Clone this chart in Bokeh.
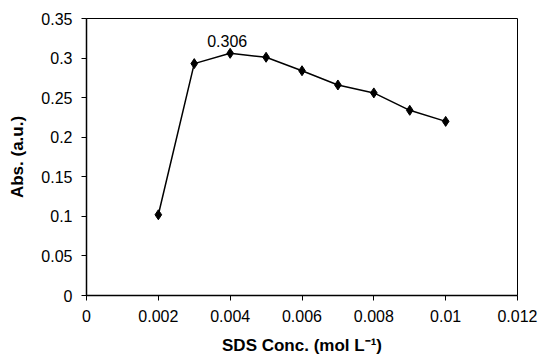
from bokeh.plotting import figure
from bokeh.models import FixedTicker, Range1d, ColumnDataSource
from bokeh.core.properties import value
from bokeh.embed import file_html
from bokeh.resources import INLINE

# data
sds_conc = [0.002, 0.003, 0.004, 0.005, 0.006, 0.007, 0.008, 0.009, 0.010]
absorbance = [0.102, 0.293, 0.306, 0.301, 0.284, 0.266, 0.256, 0.234, 0.220]
x_ticks = [0, 0.002, 0.004, 0.006, 0.008, 0.010, 0.012]
x_tick_labels = ["0", "0.002", "0.004", "0.006", "0.008", "0.01", "0.012"]
y_ticks = [0, 0.05, 0.10, 0.15, 0.20, 0.25, 0.30, 0.35]
y_tick_labels = ["0", "0.05", "0.1", "0.15", "0.2", "0.25", "0.3", "0.35"]
annot_x = [0.004]
annot_y = [0.306]
annot_text = ["0.306"]

FONT = "Liberation Sans"

p = figure(width=541, height=357, output_backend="svg", toolbar_location=None,
           x_range=Range1d(0, 0.012), y_range=Range1d(0, 0.35),
           min_border_left=86, min_border_right=24, min_border_top=18, min_border_bottom=61)
p.background_fill_color = "white"
p.border_fill_color = "white"
p.outline_line_color = "black"
p.outline_line_width = 1
p.grid.visible = False

src = ColumnDataSource(dict(x=sds_conc, y=absorbance))
p.line("x", "y", source=src, line_color="black", line_width=1.5)
p.scatter("x", "y", source=src, marker="diamond", size=10, fill_color="black", line_color="black")

p.text(x=annot_x, y=annot_y, text=annot_text, text_align="center", text_baseline="bottom",
       x_offset=-3, y_offset=-6, text_font=value(FONT), text_font_size="16px", text_color="black")

for ax, ticks, labels in ((p.xaxis[0], x_ticks, x_tick_labels), (p.yaxis[0], y_ticks, y_tick_labels)):
    ax.ticker = FixedTicker(ticks=ticks)
    ax.major_label_overrides = {t: l for t, l in zip(ticks, labels)}
    ax.minor_tick_line_color = None
    ax.major_tick_in = 0
    ax.major_tick_out = 5
    ax.axis_line_color = "black"
    ax.axis_line_width = 1.5
    ax.major_tick_line_color = "black"
    ax.major_tick_line_width = 1
    ax.major_label_text_font = FONT
    ax.major_label_text_font_size = "16px"
    ax.major_label_text_color = "black"
    ax.axis_label_text_font = FONT
    ax.axis_label_text_font_size = "17px"
    ax.axis_label_text_font_style = "bold"
    ax.axis_label_text_color = "black"

p.xaxis.axis_label = "SDS Conc. (mol L\u207b\u00b9)"
p.yaxis.axis_label = "Abs. (a.u.)"
p.xaxis.major_label_standoff = 9
p.xaxis.axis_label_standoff = 11
p.yaxis.major_label_standoff = 9
p.yaxis.axis_label_standoff = 11

open("out.html", "w").write(file_html(p, INLINE))
